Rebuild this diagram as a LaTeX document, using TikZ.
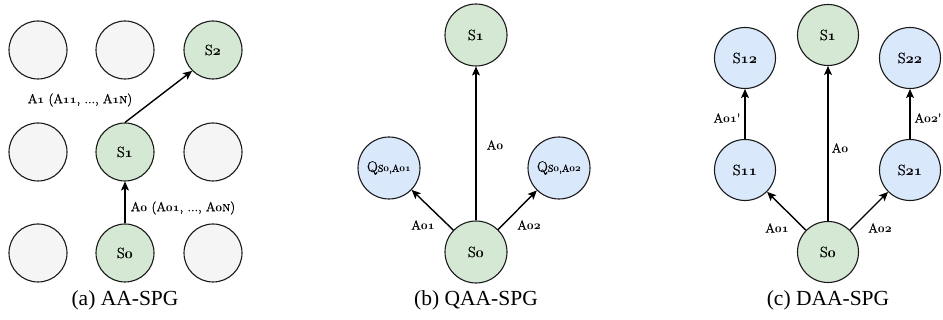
\documentclass[tikz,border=0pt]{standalone}
\usepackage{fontspec}
\usetikzlibrary{arrows.meta}
\newfontfamily\capfont{Liberation Serif}
% slightly heavier roman for the state and action names
\newfontfamily\namefont[FakeBold=1.2]{Latin Modern Roman}
% old-style figures taken from the bold math letter font
\newcommand{\os}[1]{\mbox{\boldmath$\mathnormal{#1}$}}
\newcommand{\sm}[1]{{\fontsize{10}{12}\selectfont #1}}
\newcommand{\capn}{{\fontsize{10.5}{12}\selectfont N}}
\definecolor{greyfill}{HTML}{F5F5F5}
\definecolor{greenfill}{HTML}{D5E8D4}
\definecolor{bluefill}{HTML}{DAE8FC}
\definecolor{edge}{HTML}{1A1A1A}
\tikzset{
  state/.style={circle, draw=edge, line width=1.1pt, minimum size=58pt, inner sep=0pt,
    font=\namefont\fontsize{15}{18}\selectfont},
  idle/.style={state, fill=greyfill},
  visited/.style={state, fill=greenfill},
  probe/.style={state, fill=bluefill},
  act/.style={draw=black, line width=1.4pt, -{Stealth[length=9pt,width=8pt,inset=2pt]}},
  lbl/.style={font=\namefont\fontsize{13}{15}\selectfont, inner sep=1pt},
  subcaption/.style={font=\capfont\fontsize{21.5}{24}\selectfont}
}
\begin{document}
\begin{tikzpicture}[x=1pt,y=-1pt]
\useasboundingbox (0,0) rectangle (943,320);
% (a) grid of states
\node[idle] (a11) at (38,50) {};
\node[idle] (a12) at (125,50) {};
\node[visited] (a2) at (213,50) {S\os{2}};
\node[idle] (a21) at (38,152) {};
\node[visited] (a1) at (125,152) {S\os{1}};
\node[idle] (a23) at (213,152) {};
\node[idle] (a31) at (38,253) {};
\node[visited] (a0) at (125,253) {S\os{0}};
\node[idle] (a33) at (213,253) {};
\draw[act] (a0) -- (a1);
\draw[act] (a1.north) -- (a2.-135);
\node[lbl] (la1) at (80,100) {A\os{1} (A\os{11}, ..., A\os{1}\capn)};
\node[lbl] (la0) at (183,208) {A\os{0} (A\os{01}, ..., A\os{0}\capn)};
\node[subcaption] (capa) at (125,300) {(a) AA-SPG};
% (b) Q-value branches
\node[visited, minimum size=62pt] (b1) at (476,35) {S\os{1}};
\node[visited, minimum size=62pt] (b0) at (476,252) {S\os{0}};
\node[probe, minimum size=62pt] (bq1) at (389,168) {Q\sm{S\os{0},A\os{01}}};
\node[probe, minimum size=62pt] (bq2) at (559,168) {Q\sm{S\os{0},A\os{02}}};
\draw[act] (b0) -- (b1);
\draw[act] (b0) -- (bq1);
\draw[act] (b0) -- (bq2);
\node[lbl] (lb0) at (495,145) {A\os{0}};
\node[lbl] (lb1) at (423,225) {A\os{01}};
\node[lbl] (lb2) at (529,225) {A\os{02}};
\node[subcaption] (capb) at (476,300) {(b) QAA-SPG};
% (c) deeper branches
\node[visited, minimum size=61pt] (c1) at (828,35) {S\os{1}};
\node[visited, minimum size=61pt] (c0) at (828,252) {S\os{0}};
\node[probe, minimum size=61pt] (c11) at (745,170) {S\os{11}};
\node[probe, minimum size=61pt] (c12) at (745,58) {S\os{12}};
\node[probe, minimum size=61pt] (c21) at (910,170) {S\os{21}};
\node[probe, minimum size=61pt] (c22) at (910,58) {S\os{22}};
\draw[act] (c0) -- (c1);
\draw[act] (c0) -- (c11);
\draw[act] (c0) -- (c21);
\draw[act] (c11) -- (c12);
\draw[act] (c21) -- (c22);
\node[lbl] (lc0) at (840,148) {A\os{0}};
\node[lbl] (lc1) at (777,228) {A\os{01}};
\node[lbl] (lc2) at (880,228) {A\os{02}};
\node[lbl] (lc11) at (727,118) {A\os{01}'};
\node[lbl] (lc21) at (928,118) {A\os{02}'};
\node[subcaption] (capc) at (828,300) {(c) DAA-SPG};
\end{tikzpicture}
\end{document}
